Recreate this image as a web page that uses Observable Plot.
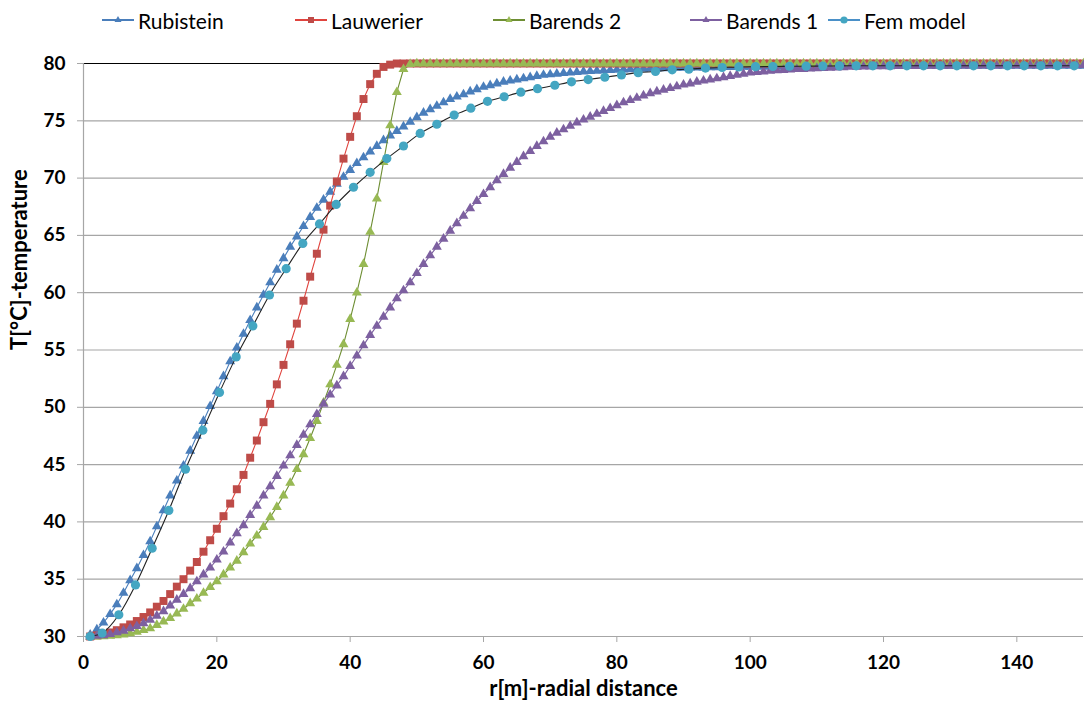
<!DOCTYPE html>
<html><head><meta charset="utf-8">
<script src="https://cdn.jsdelivr.net/npm/d3@7"></script>
<script src="https://cdn.jsdelivr.net/npm/@observablehq/plot@0.6"></script>
<style>
body{margin:0;background:#fff;font-family:Lato,sans-serif;}
#legend{position:relative;height:40px;width:1084px;}
.item{position:absolute;top:0;height:40px;display:flex;align-items:center;font-size:21px;color:#000;white-space:nowrap;}
.item svg{display:block;margin-right:4px;}
</style></head><body>
<div id="legend"></div>
<div id="chart"></div>
<script>
// radial distance grid (m) of the analytic series
const rGrid = [1,2,3,4,5,6,7,8,9,10,11,12,13,14,15,16,17,18,19,20,21,22,23,24,25,26,27,28,29,30,
31,32,33,34,35,36,37,38,39,40,41,42,43,44,45,46,47,48,49,50,51,52,53,54,55,56,57,58,59,60,
61,62,63,64,65,66,67,68,69,70,71,72,73,74,75,76,77,78,79,80,81,82,83,84,85,86,87,88,89,90,
91,92,93,94,95,96,97,98,99,100,101,102,103,104,105,106,107,108,109,110,111,112,113,114,115,116,117,118,119,120,
121,122,123,124,125,126,127,128,129,130,131,132,133,134,135,136,137,138,139,140,141,142,143,144,145,146,147,148,149,150];

const rubistein = [30.15,30.6,31.2,31.95,32.8,33.8,34.9,35.95,37.1,38.3,
39.6,41.0,42.3,43.6,44.9,46.2,47.5,48.8,50.1,51.4,
52.7,54.0,55.2,56.4,57.6,58.7,59.8,60.9,62.0,63.0,
64.0,64.9,65.8,66.6,67.4,68.1,68.8,69.5,70.1,70.7,
71.3,71.8,72.3,72.8,73.3,73.7,74.1,74.5,74.9,75.3,
75.7,76.0,76.3,76.6,76.9,77.1,77.3,77.55,77.75,77.95,
78.1,78.25,78.4,78.5,78.6,78.7,78.8,78.9,79.0,79.05,
79.1,79.15,79.2,79.25,79.3,79.33,79.36,79.39,79.42,79.45,
79.47,79.49,79.51,79.53,79.55,79.57,79.58,79.6,79.61,79.62,
79.63,79.64,79.65,79.66,79.67,79.68,79.69,79.7,79.7,79.71,
79.72,79.72,79.73,79.73,79.74,79.74,79.75,79.75,79.76,79.76,
79.77,79.77,79.77,79.78,79.78,79.78,79.79,79.79,79.79,79.8,
79.8,79.8,79.8,79.8,79.8,79.8,79.8,79.8,79.8,79.8,
79.8,79.8,79.8,79.8,79.8,79.8,79.8,79.8,79.8,79.8,
79.8,79.8,79.8,79.8,79.8,79.8,79.8,79.8,79.8,79.8];

const lauwerier = [30.0,30.1,30.2,30.35,30.55,30.8,31.05,31.35,31.7,32.1,
32.6,33.1,33.7,34.35,35.0,35.75,36.5,37.4,38.4,39.4,
40.5,41.6,42.85,44.1,45.6,47.1,48.7,50.3,52.0,53.7,
55.5,57.3,59.3,61.4,63.4,65.5,67.6,69.7,71.7,73.6,
75.4,76.9,78.2,79.1,79.7,79.9,80,80,80,80,
80,80,80,80,80,80,80,80,80,80,
80,80,80,80,80,80,80,80,80,80,
80,80,80,80,80,80,80,80,80,80,
80,80,80,80,80,80,80,80,80,80,
80,80,80,80,80,80,80,80,80,80,
80,80,80,80,80,80,80,80,80,80,
80,80,80,80,80,80,80,80,80,80,
80,80,80,80,80,80,80,80,80,80,
80,80,80,80,80,80,80,80,80,80,
80,80,80,80,80,80,80,80,80,80];

const barends2 = [30.0,30.0,30.02,30.05,30.1,30.17,30.27,30.4,30.55,30.7,
31.0,31.3,31.6,32.0,32.4,32.9,33.3,33.8,34.3,34.8,
35.4,36.0,36.6,37.35,38.1,38.8,39.55,40.4,41.3,42.3,
43.4,44.6,45.9,47.3,48.8,50.4,52.0,53.7,55.5,57.7,
60.0,62.5,65.3,68.2,71.4,74.6,77.5,79.5,79.95,80,
80,80,80,80,80,80,80,80,80,80,
80,80,80,80,80,80,80,80,80,80,
80,80,80,80,80,80,80,80,80,80,
80,80,80,80,80,80,80,80,80,80,
80,80,80,80,80,80,80,80,80,80,
80,80,80,80,80,80,80,80,80,80,
80,80,80,80,80,80,80,80,80,80,
80,80,80,80,80,80,80,80,80,80,
80,80,80,80,80,80,80,80,80,80,
80,80,80,80,80,80,80,80,80,80];

const barends1 = [30.0,30.05,30.1,30.2,30.35,30.5,30.7,30.9,31.15,31.45,
31.8,32.2,32.7,33.2,33.7,34.2,34.8,35.4,36.0,36.7,
37.4,38.2,39.0,39.7,40.6,41.4,42.3,43.1,44.0,44.9,
45.8,46.7,47.6,48.5,49.4,50.3,51.1,51.9,52.7,53.6,
54.5,55.4,56.3,57.1,57.9,58.7,59.5,60.2,60.9,61.7,
62.5,63.25,64.0,64.7,65.4,66.05,66.7,67.35,68.0,68.6,
69.2,69.8,70.35,70.9,71.4,71.9,72.35,72.8,73.2,73.6,
73.95,74.25,74.55,74.85,75.1,75.35,75.6,75.85,76.1,76.35,
76.6,76.8,77.0,77.2,77.4,77.55,77.7,77.85,78.0,78.15,
78.25,78.4,78.5,78.6,78.7,78.8,78.9,79.0,79.1,79.2,
79.25,79.3,79.35,79.4,79.43,79.46,79.5,79.52,79.55,79.58,
79.6,79.62,79.65,79.67,79.7,79.71,79.72,79.73,79.74,79.75,
79.76,79.77,79.77,79.78,79.78,79.79,79.79,79.8,79.8,79.8,
79.8,79.81,79.81,79.81,79.82,79.82,79.82,79.83,79.83,79.83,
79.84,79.84,79.84,79.84,79.85,79.85,79.85,79.85,79.85,79.85];

const femR = [1,2.8,5.3,7.8,10.3,12.8,15.3,17.9,20.4,22.9,
25.4,27.9,30.4,32.9,35.4,37.9,40.5,43,45.5,48,
50.5,53,55.6,58.1,60.6,63.1,65.6,68.1,70.7,73.2,
75.7,78.2,80.7,83.2,85.8,88.3,90.8,93.3,95.8,98.3,
100.8,103.4,105.9,108.4,110.9,113.4,115.9,118.4,121,123.5,
126,128.5,131,133.5,136.1,138.6,141.1,143.6,146.1,148.6];
const femT = [30.0,30.3,31.9,34.5,37.7,41.0,44.6,48.0,51.3,54.4,
57.1,59.8,62.1,64.3,66.0,67.7,69.2,70.5,71.7,72.8,
73.9,74.7,75.5,76.1,76.7,77.1,77.5,77.8,78.1,78.4,
78.6,78.8,79.0,79.2,79.3,79.45,79.5,79.6,79.65,79.7,
79.72,79.74,79.76,79.77,79.78,79.79,79.8,79.8,79.8,79.8,
79.8,79.8,79.8,79.8,79.8,79.8,79.8,79.8,79.8,79.8];

const xTicks = [0,20,40,60,80,100,120,140];
const yTicks = [30,35,40,45,50,55,60,65,70,75,80];

const series = [
  {name:"Rubistein", x:rGrid, y:rubistein, fill:"#4A7EBB", line:"#4A7EBB", symbol:"triangle", r:3.7, lr:2.6},
  {name:"Lauwerier", x:rGrid, y:lauwerier, fill:"#BE4B48", line:"#E0443E", symbol:"square", r:4.5, lr:3.4},
  {name:"Barends 2", x:rGrid, y:barends2, fill:"#98B954", line:"#6E8E33", symbol:"triangle", r:3.7, lr:2.6},
  {name:"Barends 1", x:rGrid, y:barends1, fill:"#7D60A0", line:"#7D60A0", symbol:"triangle", r:3.7, lr:2.6},
  {name:"Fem model", x:femR, y:femT, fill:"#44A6C2", line:"#222222", symbol:"circle", r:4.6, lr:3.6, legendLine:"#4A90C8"}
];
const legendLeft = [102, 295, 493, 690, 828];

const GRID = "#a6a6a6";
const marks = [
  Plot.ruleY(yTicks.filter(t => t !== 80), {stroke: GRID, strokeWidth: 1.2}),
  Plot.ruleY([80], {stroke: "#000", strokeWidth: 1.2}),
  Plot.ruleX([0], {stroke: GRID, strokeWidth: 1.2}),
  Plot.axisX({ticks: xTicks, tickSize: 6, tickPadding: 13, stroke: GRID, fill: "#000", fontSize: 19, fontWeight: "bold", label: null}),
  Plot.axisY({ticks: yTicks, tickSize: 6, tickPadding: 12, stroke: GRID, fill: "#000", fontSize: 19, fontWeight: "bold", label: null}),
];
for (const s of series) {
  const rows = s.x.map((x, i) => ({r: x, T: s.y[i]}));
  marks.push(Plot.line(rows, {x: "r", y: "T", stroke: s.line, strokeWidth: 1.1, curve: s.symbol === "circle" ? "monotone-x" : "linear"}));
  marks.push(Plot.dot(rows, {x: "r", y: "T", symbol: s.symbol, r: s.r, fill: s.fill, stroke: "none"}));
}
marks.push(Plot.text(["r[m]-radial distance"], {frameAnchor: "bottom", dy: 59, fontSize: 22, fontWeight: "bold", fill: "#000"}));
marks.push(Plot.text(["T[°C]-temperature"], {frameAnchor: "left", dx: -64, rotate: -90, fontSize: 22, fontWeight: "bold", fill: "#000"}));

const chart = Plot.plot({
  width: 1084, height: 666,
  marginLeft: 83, marginRight: 1, marginTop: 23, marginBottom: 70,
  style: {fontFamily: "Lato, sans-serif", background: "#fff", overflow: "visible"},
  x: {domain: [0, 150]},
  y: {domain: [30, 80]},
  marks
});
document.getElementById("chart").appendChild(chart);

// legend
const legend = d3.select("#legend");
const symbolPath = (sym, r) => d3.symbol(sym === "triangle" ? d3.symbolTriangle : sym === "square" ? d3.symbolSquare : d3.symbolCircle, Math.PI * r * r)();
series.forEach((s, i) => {
  const item = legend.append("div").attr("class", "item").style("left", legendLeft[i] + "px");
  const svg = item.append("svg").attr("width", 32).attr("height", 14);
  svg.append("line").attr("x1", 0).attr("x2", 32).attr("y1", 7).attr("y2", 7)
    .attr("stroke", s.legendLine || s.line).attr("stroke-width", 2);
  svg.append("path").attr("d", symbolPath(s.symbol, s.lr)).attr("transform", "translate(16,7)").attr("fill", s.fill);
  item.append("span").text(s.name);
});
</script>
</body></html>
